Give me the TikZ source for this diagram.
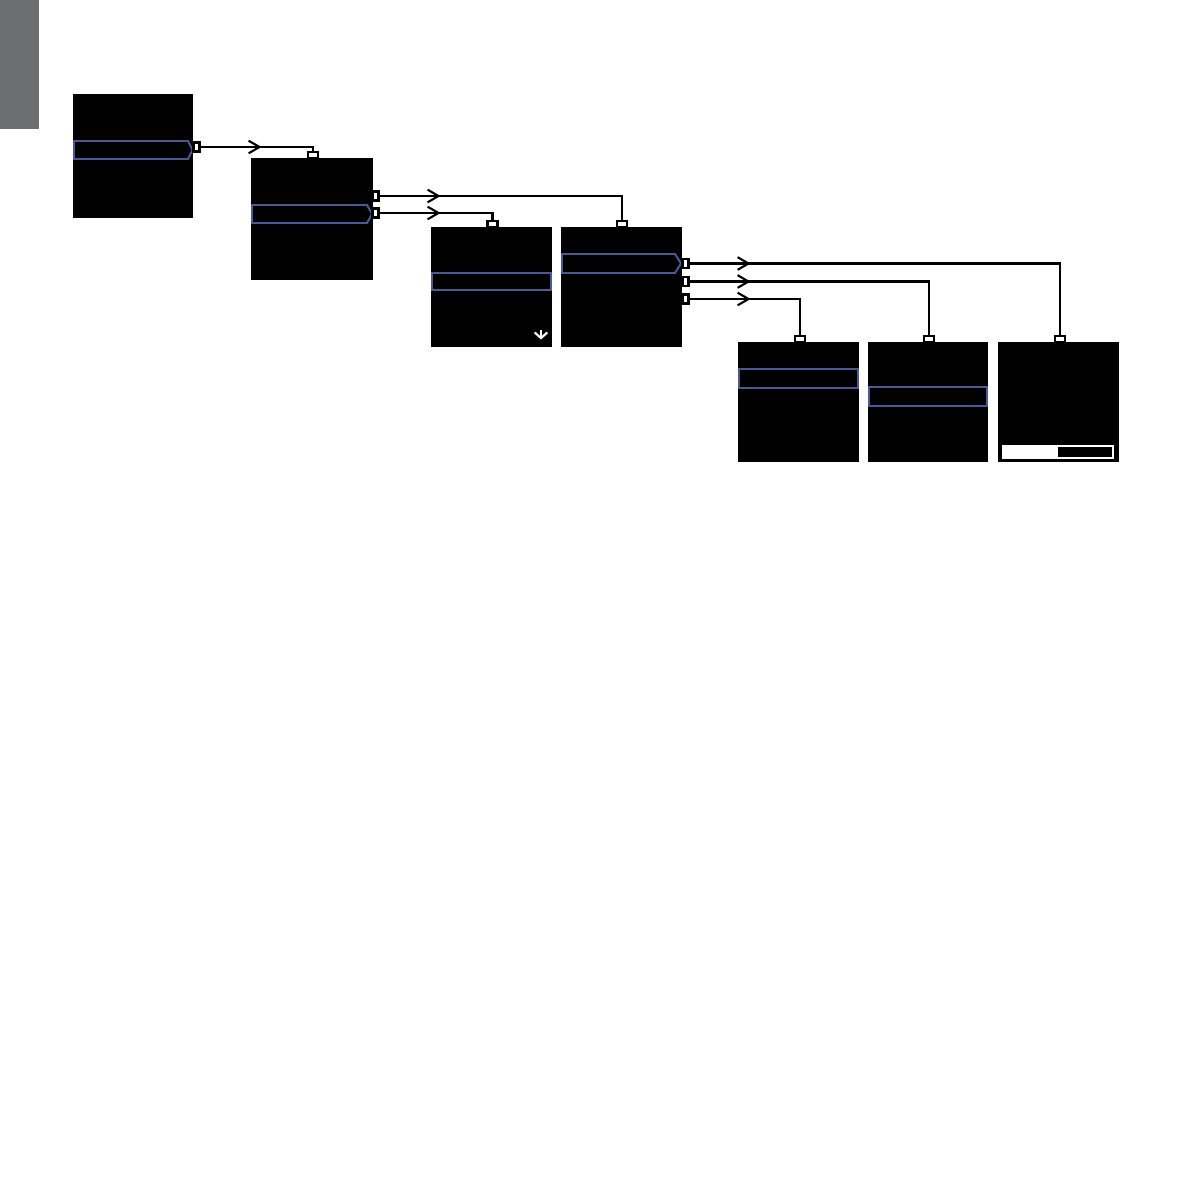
\documentclass[tikz,border=0pt]{standalone}
\usepackage{tikz}
\usetikzlibrary{positioning, arrows.meta, decorations.markings}

\definecolor{tabgray}{HTML}{6D6E71}
\definecolor{selblue}{HTML}{4A5896}

\begin{document}
\begin{tikzpicture}[
  x=0.01cm, y=-0.01cm,
  screen/.style={fill=black, rectangle, inner sep=0pt},
  outport/.style={draw, fill=white, rectangle, inner sep=0pt, line width=0.6pt,
    minimum width=0.06cm, minimum height=0.09cm},
  inport/.style={draw, fill=white, rectangle, inner sep=0pt, line width=0.6pt,
    minimum width=0.1cm, minimum height=0.06cm},
  selbar/.style={draw=selblue, line width=0.55pt},
  link/.style={line width=0.6pt, postaction={decorate},
    decoration={markings, mark=at position 0.61cm with
      {\arrow{Straight Barb[length=3.1pt, width=3.6pt, line width=0.6pt]}}}}
]
\useasboundingbox (0,0) rectangle (1191,1191);

% Side tab
\fill[tabgray] (0,0) rectangle (39,129);

% Screens
\node[screen, minimum width=1.2cm, minimum height=1.24cm] (s1) at (133,156) {};
\node[screen, minimum width=1.22cm, minimum height=1.22cm] (s2) at (312,219) {};
\node[screen, minimum width=1.21cm, minimum height=1.2cm] (s3) at (491.5,287) {};
\node[screen, minimum width=1.21cm, minimum height=1.2cm] (s4) at (621.5,287) {};
\node[screen, minimum width=1.21cm, minimum height=1.2cm] (s5) at (798.5,402) {};
\node[screen, minimum width=1.2cm, minimum height=1.2cm] (s6) at (928,402) {};
\node[screen, minimum width=1.21cm, minimum height=1.2cm] (s7) at (1058.5,402) {};

% Selected rows
\draw[selbar] (74,141) -- (188,141) -- (192.5,150) -- (188,159) -- (74,159) -- cycle;
\draw[selbar] (252,205) -- (367,205) -- (372,214) -- (367,223) -- (252,223) -- cycle;
\draw[selbar] (432,273) rectangle (551,290);
\draw[selbar] (562,254) -- (675,254) -- (681,263.5) -- (675,273) -- (562,273) -- cycle;
\draw[selbar] (739,369) rectangle (858,388);
\draw[selbar] (869,387) rectangle (987,406);

% Scroll hint and progress bar
\draw[white, line width=0.6pt, -{Straight Barb[length=1.6pt, width=3.6pt, line width=0.6pt]}]
  (541,330) -- (541,339.5);
\draw[white, line width=0.5pt] (1003,446) rectangle (1113,458);
\fill[white] (1003,446) rectangle (1058,458);

% Ports
\node[outport] (o1) at (196.5,147) {};
\node[outport] (o2a) at (375.5,196) {};
\node[outport] (o2b) at (375.5,213) {};
\node[outport] (o4a) at (685.5,263.5) {};
\node[outport] (o4b) at (685.5,281.5) {};
\node[outport] (o4c) at (685.5,299) {};
\node[inport] (i2) at (313,155) {};
\node[inport] (i3) at (492.5,224) {};
\node[inport] (i4) at (622,224) {};
\node[inport] (i5) at (800,339) {};
\node[inport] (i6) at (929,339) {};
\node[inport] (i7) at (1060,339) {};

% Links
\draw[link] (o1) -- (i2 |- o1) -- (i2);
\draw[link] (o2a) -- (i4 |- o2a) -- (i4);
\draw[link] (o2b) -- (i3 |- o2b) -- (i3);
\draw[link] (o4a) -- (i7 |- o4a) -- (i7);
\draw[link] (o4b) -- (i6 |- o4b) -- (i6);
\draw[link] (o4c) -- (i5 |- o4c) -- (i5);

\end{tikzpicture}
\end{document}
